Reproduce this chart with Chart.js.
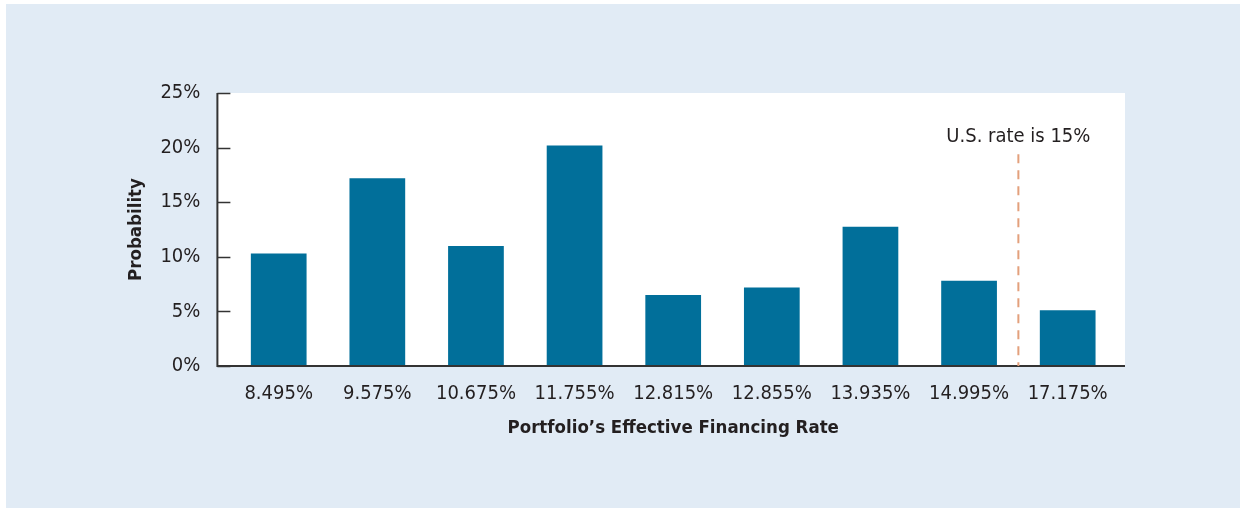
<!DOCTYPE html>
<html>
<head>
<meta charset="utf-8">
<script src="https://cdn.jsdelivr.net/npm/chart.js@4.4.1/dist/chart.umd.min.js"></script>
<style>
html, body { margin: 0; padding: 0; background: #fff; }
#wrap { width: 1241px; height: 511px; }
</style>
</head>
<body>
<div id="wrap"><canvas id="chart"></canvas></div>
<script>
// ---- data ----
const rates = ['8.495%', '9.575%', '10.675%', '11.755%', '12.815%', '12.855%', '13.935%', '14.995%', '17.175%'];
const probability = [10.3, 17.2, 11.0, 20.2, 6.5, 7.2, 12.75, 7.8, 5.1];
const yTicks = [0, 5, 10, 15, 20, 25];
const usRatePos = 7.5;          // between 14.995% and 17.175%
const usRateLineTop = 19.4;     // where the dashed line starts (in %)
const usRateLabel = 'U.S. rate is 15%';
const usRateLabelY = 20.5;

const FONT = "'Liberation Sans Narrow', 'Arial Narrow', 'DejaVu Sans Condensed', sans-serif";
const INK = '#231f20';

////// background panel, plot frame, axes and the 15% marker //////
const frame = {
    id: 'frame',
    beforeDraw(chart) {
        const ctx = chart.ctx, a = chart.chartArea;
        ctx.save();
        ctx.fillStyle = '#e1ebf5';
        ctx.fillRect(6, 4, 1234, 504);
        ctx.fillStyle = '#ffffff';
        ctx.fillRect(a.left - 12, a.top, (a.right + 8) - (a.left - 12), a.bottom - a.top);
        ctx.restore();
    },
    afterDatasetsDraw(chart) {
        const ctx = chart.ctx, a = chart.chartArea;
        const x = chart.scales.x, y = chart.scales.y;
        const axisX = a.left - 12;
        ctx.save();
        ctx.strokeStyle = '#333333';
        ctx.lineWidth = 2;
        ctx.beginPath();
        ctx.moveTo(axisX, a.top);
        ctx.lineTo(axisX, a.bottom);
        ctx.lineTo(a.right + 8, a.bottom);
        ctx.stroke();
        // inward tick marks
        ctx.lineWidth = 1.5;
        yTicks.forEach(function(v) {
            const py = Math.round(y.getPixelForValue(v)) + 0.5;
            ctx.beginPath();
            ctx.moveTo(axisX, py);
            ctx.lineTo(axisX + 13, py);
            ctx.stroke();
        });
        // dashed U.S. rate line
        const lx = x.getPixelForValue(usRatePos);
        ctx.strokeStyle = '#e3a07c';
        ctx.lineWidth = 2;
        ctx.setLineDash([9, 7]);
        ctx.beginPath();
        ctx.moveTo(lx, y.getPixelForValue(usRateLineTop));
        ctx.lineTo(lx, a.bottom);
        ctx.stroke();
        ctx.setLineDash([]);
        ctx.fillStyle = INK;
        ctx.font = '20px ' + FONT;
        ctx.textAlign = 'center';
        ctx.textBaseline = 'alphabetic';
        ctx.fillText(usRateLabel, lx, y.getPixelForValue(usRateLabelY));
        ctx.restore();
    }
};

const data = {
    labels: rates,
    datasets: [{
        label: 'Probability',
        data: probability,
        backgroundColor: '#016f9a',
        barPercentage: 0.565,
        categoryPercentage: 1
    }]
};

const config = {
    type: 'bar',
    data: data,
    plugins: [frame],
    options: {
        responsive: true,
        maintainAspectRatio: false,
        animation: false,
        layout: { padding: { left: 125, right: 124, top: 93, bottom: 72 } },
        plugins: {
            legend: { display: false },
            tooltip: { enabled: false }
        },
        scales: {
            x: {
                grid: { display: false, drawTicks: false },
                border: { display: false },
                ticks: { color: INK, font: { family: FONT, size: 20 }, padding: 16, maxRotation: 0, autoSkip: false },
                title: {
                    display: true,
                    text: 'Portfolio\u2019s Effective Financing Rate',
                    color: INK,
                    font: { family: FONT, size: 18.5, weight: 'bold' },
                    padding: 0
                },
                afterFit: function(scale) { scale.height = 73; }
            },
            y: {
                min: 0,
                max: 25,
                grid: { display: false, drawTicks: false },
                border: { display: false },
                ticks: {
                    stepSize: 5,
                    color: INK,
                    font: { family: FONT, size: 20 },
                    padding: 29,
                    callback: function(v) { return v + '%'; }
                },
                title: {
                    display: true,
                    text: 'Probability',
                    color: INK,
                    font: { family: FONT, size: 18.5, weight: 'bold' },
                    padding: 0
                },
                afterFit: function(scale) { scale.width = 104.4; }
            }
        }
    }
};

var mychart = new Chart(document.getElementById('chart'), config);
</script>
</body>
</html>
